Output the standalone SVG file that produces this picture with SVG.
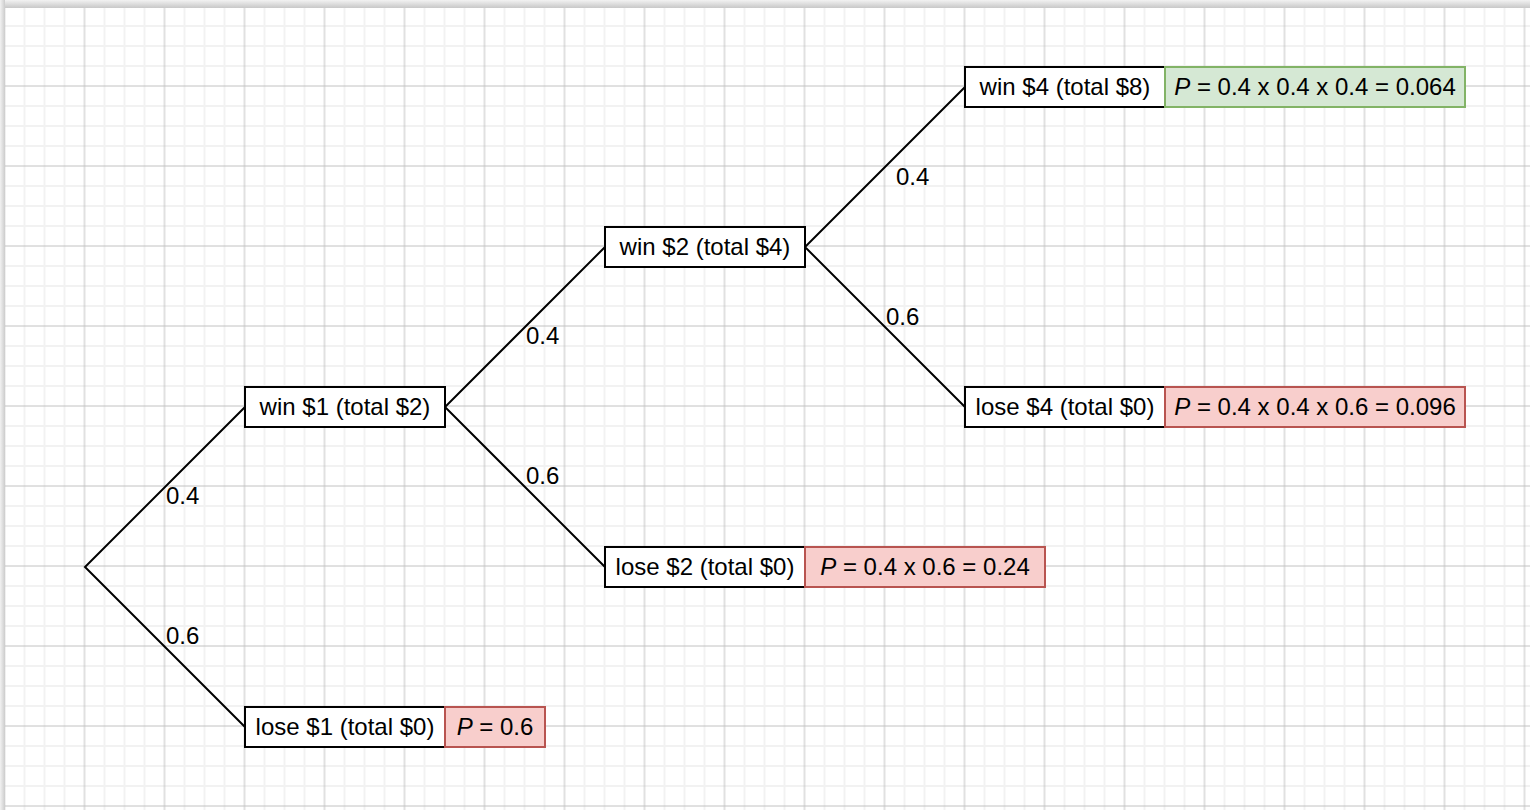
<svg xmlns="http://www.w3.org/2000/svg" width="1530" height="810" viewBox="0 0 1530 810">
<defs>
<pattern id="grid" patternUnits="userSpaceOnUse" x="34.5" y="36" width="80" height="80">
<path d="M10 0V80M30 0V80M70 0V80M0 10H80M0 30H80M0 70H80" stroke="#f2f2f2" stroke-width="2" fill="none"/>
<path d="M50 0V80M0 50H80" stroke="#c2c2c2" stroke-width="1" fill="none"/>
</pattern>
<linearGradient id="topsh" x1="0" y1="0" x2="0" y2="1">
<stop offset="0" stop-color="#f2f2f2"/>
<stop offset="1" stop-color="#c8c8c8"/>
</linearGradient>
<linearGradient id="leftsh" x1="0" y1="0" x2="1" y2="0">
<stop offset="0" stop-color="#f2f2f2"/>
<stop offset="1" stop-color="#cccccc"/>
</linearGradient>
</defs>
<style>
.box{fill:#ffffff;stroke:#000000;stroke-width:2}
.red{fill:#f8cecc;stroke:#b85450;stroke-width:2}
.green{fill:#d5e8d4;stroke:#82b366;stroke-width:2}
.t{font-family:"Liberation Sans",Arial,sans-serif;font-size:24px;fill:#000000}
.c{text-anchor:middle}
.edge{stroke:#000000;stroke-width:2;fill:none}
</style>
<rect x="0" y="0" width="1530" height="810" fill="#f2f2f2"/>
<rect x="0" y="0" width="1530" height="8" fill="url(#topsh)"/>
<rect x="0" y="0" width="5" height="810" fill="url(#leftsh)"/>
<rect x="5" y="8" width="1525" height="802" fill="#ffffff"/>
<rect x="5" y="8" width="1525" height="802" fill="url(#grid)"/>

<g id="connectors">
<path class="edge" d="M245 407L85 567L245 727"/>
<path class="edge" d="M605 247L445 407L605 567"/>
<path class="edge" d="M965 87L805 247L965 407"/>
<text class="t" x="166" y="504">0.4</text>
<text class="t" x="166" y="644">0.6</text>
<text class="t" x="526" y="344">0.4</text>
<text class="t" x="526" y="484">0.6</text>
<text class="t" x="896" y="185">0.4</text>
<text class="t" x="886" y="325">0.6</text>
</g>

<g id="win1">
<rect class="box" x="245" y="387" width="200" height="40"/>
<text class="t c" x="345" y="415">win $1 (total $2)</text>
</g>
<g id="lose1">
<rect class="box" x="245" y="707" width="200" height="40"/>
<text class="t c" x="345" y="735">lose $1 (total $0)</text>
</g>
<g id="p_lose1">
<rect class="red" x="445" y="707" width="100" height="40"/>
<text class="t c" x="495" y="735"><tspan font-style="italic">P</tspan> = 0.6</text>
</g>
<g id="win2">
<rect class="box" x="605" y="227" width="200" height="40"/>
<text class="t c" x="705" y="255">win $2 (total $4)</text>
</g>
<g id="lose2">
<rect class="box" x="605" y="547" width="200" height="40"/>
<text class="t c" x="705" y="575">lose $2 (total $0)</text>
</g>
<g id="p_lose2">
<rect class="red" x="805" y="547" width="240" height="40"/>
<text class="t c" x="925" y="575"><tspan font-style="italic">P</tspan> = 0.4 x 0.6 = 0.24</text>
</g>
<g id="win4">
<rect class="box" x="965" y="67" width="200" height="40"/>
<text class="t c" x="1065" y="95">win $4 (total $8)</text>
</g>
<g id="p_win4">
<rect class="green" x="1165" y="67" width="300" height="40"/>
<text class="t c" x="1315" y="95"><tspan font-style="italic">P</tspan> = 0.4 x 0.4 x 0.4 = 0.064</text>
</g>
<g id="lose4">
<rect class="box" x="965" y="387" width="200" height="40"/>
<text class="t c" x="1065" y="415">lose $4 (total $0)</text>
</g>
<g id="p_lose4">
<rect class="red" x="1165" y="387" width="300" height="40"/>
<text class="t c" x="1315" y="415"><tspan font-style="italic">P</tspan> = 0.4 x 0.4 x 0.6 = 0.096</text>
</g>
</svg>
